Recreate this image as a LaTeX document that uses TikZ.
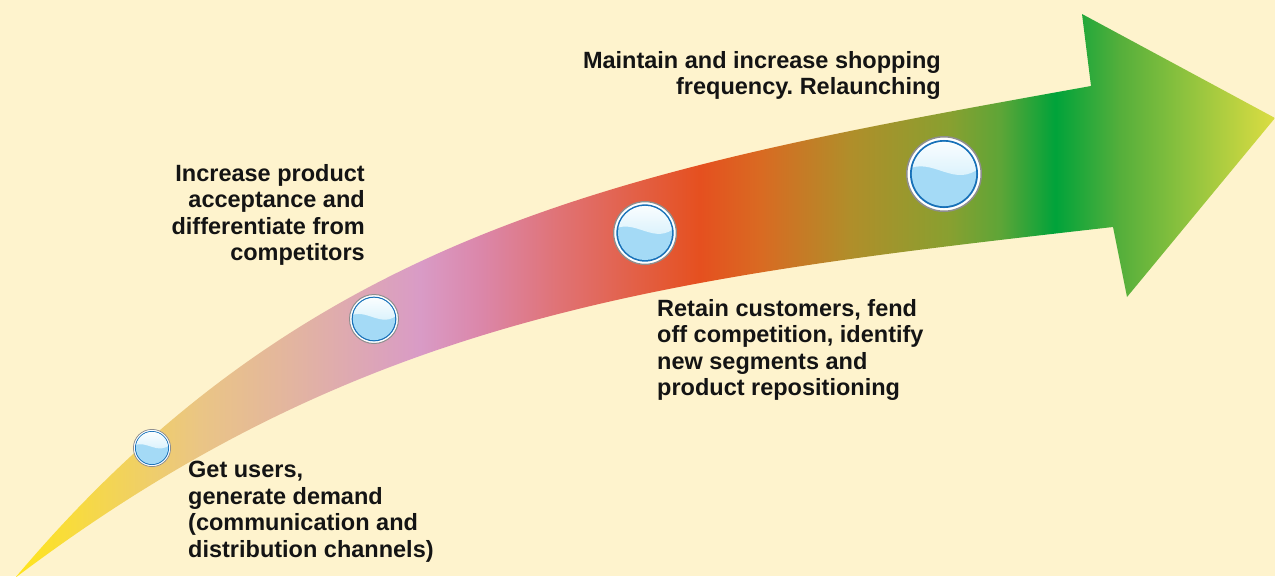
\documentclass[tikz,border=0pt]{standalone}
\usepackage{fontspec}
\setmainfont{Liberation Sans}
\usetikzlibrary{calc}
\frenchspacing

\definecolor{bg}{HTML}{FEF3CD}
\definecolor{ga}{HTML}{FFE51C}
\definecolor{gb}{HTML}{F2D35A}
\definecolor{gc}{HTML}{EAC585}
\definecolor{gd}{HTML}{E2B3A2}
\definecolor{ge}{HTML}{D99BC6}
\definecolor{gf}{HTML}{DB87AA}
\definecolor{gg}{HTML}{E07274}
\definecolor{gh}{HTML}{E5501F}
\definecolor{gi}{HTML}{D96A22}
\definecolor{gj}{HTML}{B08E2A}
\definecolor{gk}{HTML}{88A030}
\definecolor{gl}{HTML}{5EA537}
\definecolor{gm}{HTML}{00A33A}
\definecolor{gn}{HTML}{55AF3B}
\definecolor{go}{HTML}{DCDD42}
\definecolor{bubgray}{HTML}{8E8E8E}
\definecolor{bubblue}{HTML}{1770B8}
\definecolor{bubbase}{HTML}{A4DAF6}
\definecolor{bubhl}{HTML}{CDEDFB}
\definecolor{txt}{HTML}{141414}

\pgfdeclarehorizontalshading{arrowshade}{100bp}{%
color(0bp)=(ga); color(25bp)=(ga); color(29.17bp)=(gb); color(32.34bp)=(gc);
color(36.31bp)=(gd); color(41.07bp)=(ge); color(43.45bp)=(gf); color(46.63bp)=(gg);
color(52.18bp)=(gh); color(54.56bp)=(gi); color(58.13bp)=(gj); color(62.10bp)=(gk);
color(64.09bp)=(gl); color(66.27bp)=(gm); color(68.85bp)=(gn); color(75bp)=(go);
color(100bp)=(go)}

\tikzset{
  lbl/.style={font=\fontsize{23.5}{26.5}\selectfont\bfseries, inner sep=0pt, text=txt},
  bub/.style={circle, fill=white, draw=bubgray, inner sep=0pt},
}

\newcommand\bubble[4]{%
  \node[bub, minimum size={2*#4pt-0.04*#4pt}, line width={0.04*#4pt}] (#1) at (#2,#3) {};
  \begin{scope}[shift={(#2,#3)}, scale=#4]
    \fill[bubblue] (0,0) circle[radius=0.895];
    \fill[bubbase] (0,0) circle[radius=0.845];
    \clip (0,0) circle[radius=0.845];
    \shade[top color=white, bottom color=bubhl] (-1,0.1) .. controls (-0.3,0.5) and (0.3,-0.45) .. (1,0.22) -- (1,1) -- (-1,1) -- cycle;
  \end{scope}}

\begin{document}
\begin{tikzpicture}[x=1pt,y=1pt]
\fill[bg] (0,0) rectangle (1275,-576);
\useasboundingbox (0,0) rectangle (1275,-576);

\shade[shading=arrowshade] (15,-578) .. controls (315,-222) and (641,-167) .. (1091,-86)
  -- (1082,-14) -- (1275,-118) -- (1127,-297) -- (1113,-227)
  .. controls (663,-278) and (365,-313.5) .. cycle;

\bubble{b1}{152}{-448}{19}
\bubble{b2}{374}{-319}{25}
\bubble{b3}{645}{-233}{32}
\bubble{b4}{944}{-174}{38}

\node[lbl, anchor=north east, align=right] (t1) at (941,-51) {Maintain and increase shopping\\frequency. Relaunching};
\node[lbl, anchor=north east, align=right] (t2) at (365,-164) {Increase product\\acceptance and\\differentiate from\\competitors};
\node[lbl, anchor=north west, align=left] (t3) at (657,-299) {Retain customers, fend\\off competition, identify\\new segments and\\product repositioning};
\node[lbl, anchor=north west, align=left] (t4) at (188,-461) {Get users,\\generate demand\\(communication and\\distribution channels)};
\end{tikzpicture}
\end{document}
